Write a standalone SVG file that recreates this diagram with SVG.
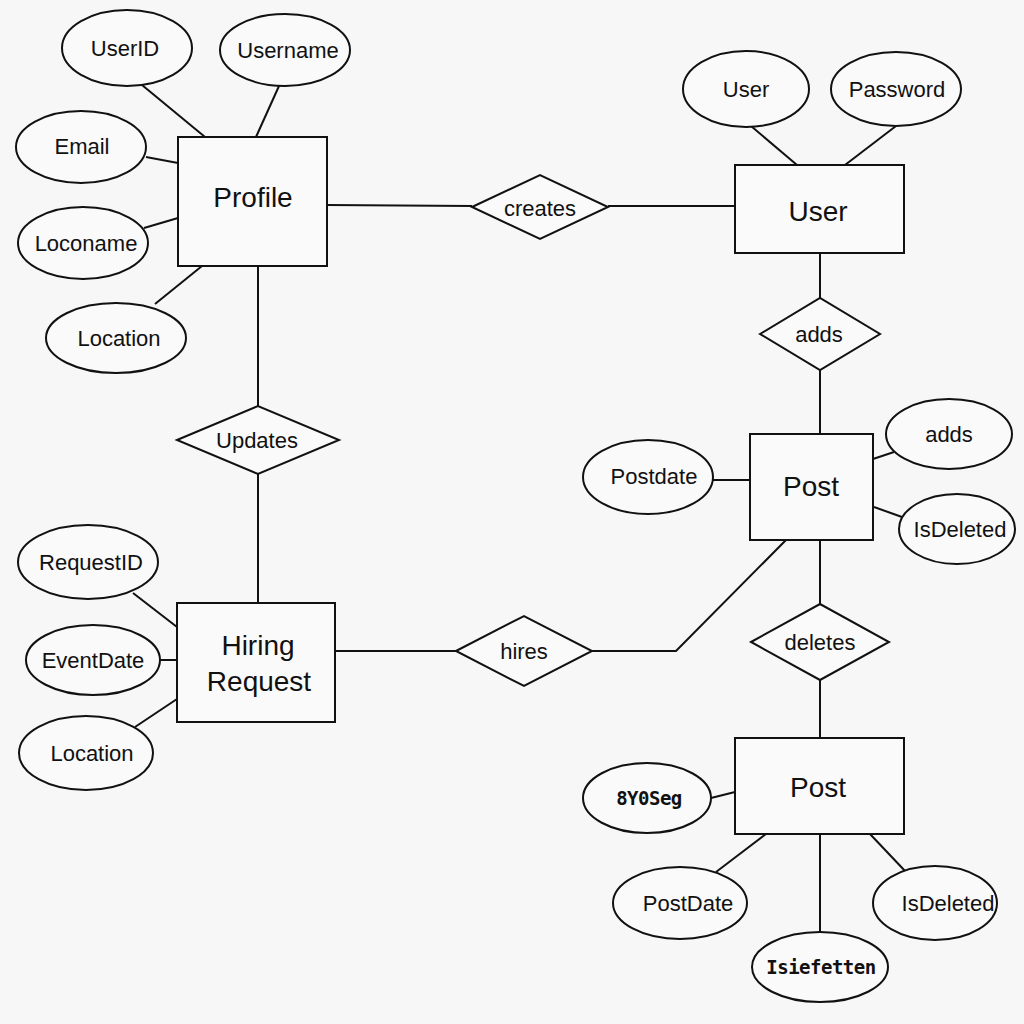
<svg xmlns="http://www.w3.org/2000/svg" width="1024" height="1024" viewBox="0 0 1024 1024">
<style>
.s{fill:none;stroke:#111;stroke-width:2}
.n{fill:#fafafa;stroke:#111;stroke-width:2}
.t{font-family:"Liberation Sans",Arial,sans-serif;font-size:22px;fill:#111;text-anchor:middle;dominant-baseline:central}
.e{font-size:28px}
.m{font-family:"DejaVu Sans Mono","Liberation Mono",monospace;font-weight:bold;font-size:19px;letter-spacing:-0.5px}
</style>
<rect width="1024" height="1024" fill="#f7f7f7"/>
<g id="connectors" class="s">
<line x1="142" y1="85" x2="205" y2="137"/>
<line x1="279" y1="86" x2="256" y2="137"/>
<line x1="146" y1="157" x2="178" y2="163"/>
<line x1="144" y1="228" x2="178" y2="218"/>
<line x1="155" y1="304" x2="202" y2="266"/>
<line x1="327" y1="205" x2="472" y2="206"/>
<line x1="608" y1="206" x2="735" y2="206"/>
<line x1="751" y1="126" x2="797" y2="165"/>
<line x1="896" y1="126" x2="845" y2="165"/>
<line x1="820" y1="253" x2="820" y2="298"/>
<line x1="820" y1="370" x2="820" y2="434"/>
<line x1="873" y1="459" x2="894" y2="452"/>
<line x1="874" y1="507" x2="902" y2="517"/>
<line x1="713" y1="480" x2="750" y2="480"/>
<line x1="820" y1="540" x2="820" y2="604"/>
<line x1="820" y1="680" x2="820" y2="738"/>
<line x1="711" y1="798" x2="735" y2="792"/>
<line x1="716" y1="872" x2="766" y2="834"/>
<line x1="820" y1="834" x2="820" y2="932"/>
<line x1="870" y1="834" x2="906" y2="872"/>
<polyline points="786,540 676,651 592,651"/>
<line x1="456" y1="651" x2="335" y2="651"/>
<line x1="258" y1="266" x2="258" y2="406"/>
<line x1="258" y1="474" x2="258" y2="603"/>
<line x1="133" y1="593" x2="177" y2="627"/>
<line x1="160" y1="660" x2="177" y2="660"/>
<line x1="135" y1="727" x2="177" y2="699"/>
</g>
<g id="profile"><rect class="n" x="178" y="137" width="149" height="129"/><text class="t e" x="253" y="197">Profile</text></g>
<g id="userid"><ellipse class="n" cx="127" cy="48" rx="65" ry="38"/><text class="t" x="125" y="48">UserID</text></g>
<g id="username"><ellipse class="n" cx="285" cy="50" rx="65" ry="36"/><text class="t" x="288" y="50">Username</text></g>
<g id="email"><ellipse class="n" cx="81" cy="147" rx="65" ry="36"/><text class="t" x="82" y="146">Email</text></g>
<g id="loconame"><ellipse class="n" cx="83" cy="243" rx="65" ry="36"/><text class="t" x="86" y="243">Loconame</text></g>
<g id="location1"><ellipse class="n" cx="116" cy="338" rx="70" ry="35"/><text class="t" x="119" y="338">Location</text></g>
<g id="creates"><polygon class="n" points="472,207 540,175 608,207 540,239"/><text class="t" x="540" y="208">creates</text></g>
<g id="user"><rect class="n" x="735" y="165" width="169" height="88"/><text class="t e" x="818" y="211">User</text></g>
<g id="user-attr"><ellipse class="n" cx="746" cy="89" rx="63" ry="38"/><text class="t" x="746" y="89">User</text></g>
<g id="password"><ellipse class="n" cx="896" cy="89" rx="65" ry="37"/><text class="t" x="897" y="89">Password</text></g>
<g id="adds-rel"><polygon class="n" points="760,334 820,298 880,334 820,370"/><text class="t" x="819" y="334">adds</text></g>
<g id="post1"><rect class="n" x="750" y="434" width="123" height="106"/><text class="t e" x="811" y="486">Post</text></g>
<g id="adds-attr"><ellipse class="n" cx="949" cy="434" rx="63" ry="35"/><text class="t" x="949" y="434">adds</text></g>
<g id="isdeleted1"><ellipse class="n" cx="957" cy="529" rx="58" ry="35"/><text class="t" x="960" y="529">IsDeleted</text></g>
<g id="postdate1"><ellipse class="n" cx="648" cy="477" rx="65" ry="37"/><text class="t" x="654" y="476">Postdate</text></g>
<g id="deletes"><polygon class="n" points="751,642 820,604 889,642 820,680"/><text class="t" x="820" y="642">deletes</text></g>
<g id="post2"><rect class="n" x="735" y="738" width="169" height="96"/><text class="t e" x="818" y="787">Post</text></g>
<g id="attr-8y0seg"><ellipse class="n" cx="647" cy="798" rx="64" ry="35"/><text class="t m" x="649" y="798">8Y0Seg</text></g>
<g id="postdate2"><ellipse class="n" cx="680" cy="903" rx="67" ry="36"/><text class="t" x="688" y="903">PostDate</text></g>
<g id="isietetten"><ellipse class="n" cx="820" cy="967" rx="68" ry="35"/><text class="t m" x="821" y="967">Isiefetten</text></g>
<g id="isdeleted2"><ellipse class="n" cx="935" cy="903" rx="62" ry="37"/><text class="t" x="948" y="903">IsDeleted</text></g>
<g id="hires"><polygon class="n" points="456,651 524,616 592,651 524,686"/><text class="t" x="524" y="651">hires</text></g>
<g id="hiring-request"><rect class="n" x="177" y="603" width="158" height="119"/><text class="t e" x="258" y="645">Hiring</text><text class="t e" x="259" y="681">Request</text></g>
<g id="updates"><polygon class="n" points="177,440 258,406 339,440 258,474"/><text class="t" x="257" y="440">Updates</text></g>
<g id="requestid"><ellipse class="n" cx="88" cy="562" rx="70" ry="37"/><text class="t" x="91" y="562">RequestID</text></g>
<g id="eventdate"><ellipse class="n" cx="93" cy="660" rx="67" ry="35"/><text class="t" x="93" y="660">EventDate</text></g>
<g id="location2"><ellipse class="n" cx="86" cy="753" rx="67" ry="37"/><text class="t" x="92" y="753">Location</text></g>
</svg>
